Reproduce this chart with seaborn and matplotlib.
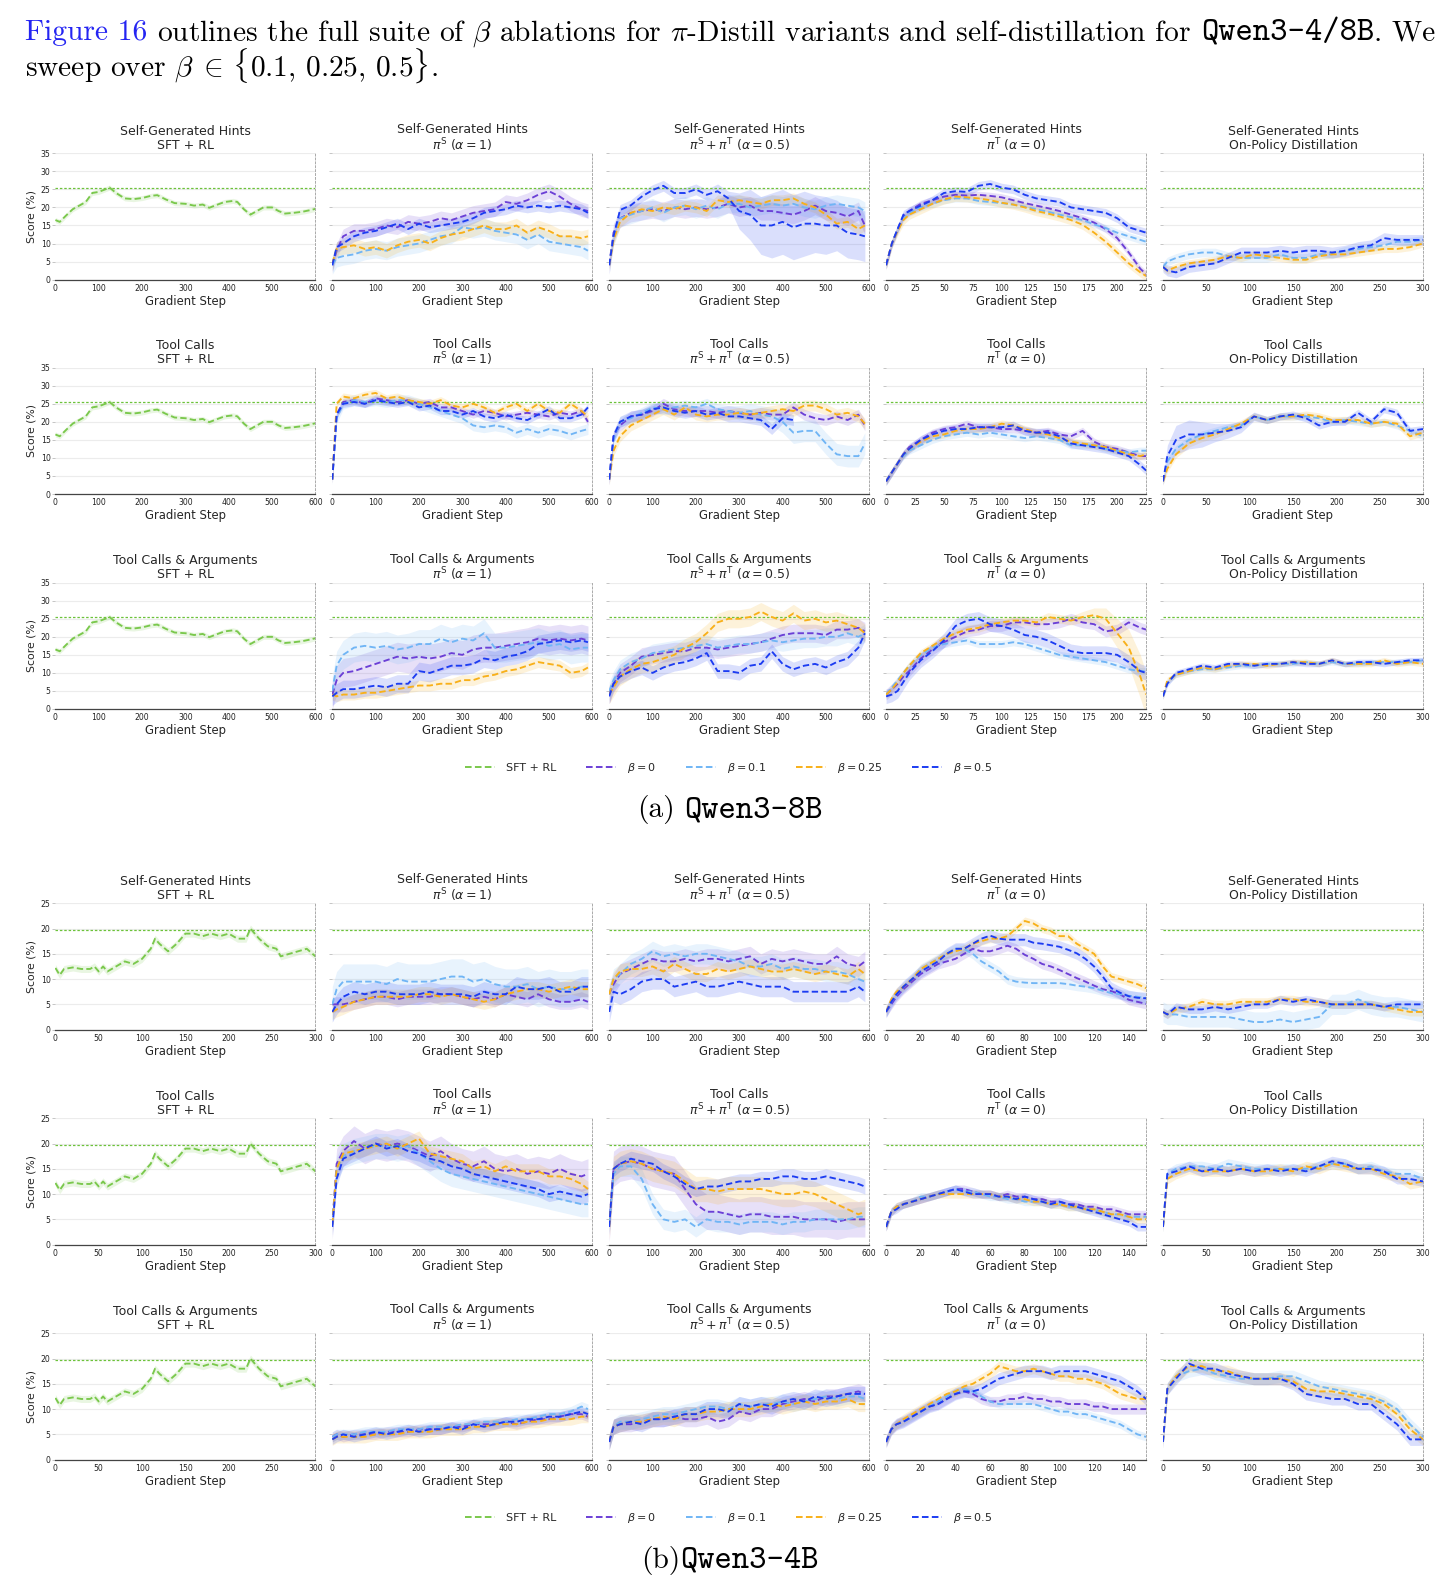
import numpy as np
import matplotlib
matplotlib.use("Agg")
import matplotlib.pyplot as plt
from matplotlib.lines import Line2D
import seaborn as sns

# ------------------------------------------------------------------ data
STEPS_600 = [0, 10, 25, 50, 75, 100, 125, 150, 175, 200, 225, 250, 275, 300, 325,
             350, 375, 400, 425, 450, 475, 500, 525, 550, 575, 590]
STEPS_225 = [0, 5, 10, 15, 20, 30, 40, 50, 60, 70, 80, 90, 100, 110, 120, 130, 140,
             150, 160, 170, 180, 190, 200, 210, 220, 225]
STEPS_300 = [0, 5, 15, 30, 45, 60, 75, 90, 105, 120, 135, 150, 165, 180, 195, 210,
             225, 240, 255, 270, 285, 300]
STEPS_150 = [0, 3, 6, 10, 15, 20, 25, 30, 35, 40, 45, 50, 55, 60, 65, 70, 75, 80, 85,
             90, 95, 100, 105, 110, 115, 120, 125, 130, 135, 140, 145, 150]

# SFT + RL baselines
SFT8_STEPS = [0, 10, 25, 40, 55, 70, 85, 100, 115, 125, 140, 160, 180, 200, 220, 235, 255,
              275, 300, 320, 340, 355, 370, 390, 410, 420, 435, 450, 465, 480, 500, 515,
              530, 550, 570, 590, 600]
SFT8_SCORE = [16.5, 16.0, 17.8, 19.5, 20.5, 21.5, 24.0, 24.3, 25.0, 25.5, 24.0, 22.5, 22.3,
              22.6, 23.2, 23.4, 22.2, 21.2, 21.0, 20.5, 20.8, 19.9, 20.6, 21.5, 21.8, 21.5,
              19.5, 18.0, 19.0, 20.0, 20.0, 19.0, 18.3, 18.5, 18.8, 19.3, 19.6]
SFT8_BEST = 25.5
SFT4_STEPS = [0, 5, 10, 20, 30, 40, 45, 50, 55, 60, 70, 80, 90, 100, 105, 110, 115, 120,
              130, 140, 150, 160, 170, 180, 190, 200, 210, 220, 225, 235, 245, 255, 260,
              270, 280, 290, 300]
SFT4_SCORE = [12.2, 10.8, 12, 12.3, 12, 12, 12.5, 11.5, 12.5, 11.5, 12.5, 13.5, 13, 14, 15,
              16, 18, 17, 15.5, 17, 19, 19, 18.5, 19, 18.5, 19, 18, 18, 20, 18, 16.5, 16,
              14.5, 15, 15.5, 16, 14.5]
SFT4_BEST = 19.7

# ---------------- Qwen3-8B ----------------
Q8_HINTS_PS = {
    "0":    [4, 8, 12, 13.5, 13.5, 14, 15, 14.5, 16, 15.5, 16, 17, 16.5, 17.5, 18.5, 19, 19.5, 21.5, 21, 22, 23.5, 24.5, 23, 21, 19.5, 19],
    "0.1":  [4, 6, 6.5, 7, 8, 8.5, 8, 9, 9.5, 10, 11, 12, 12.5, 14.5, 14, 14.5, 13.5, 13, 12.5, 11, 12.5, 10.5, 10, 9.5, 9, 8],
    "0.25": [4.5, 8.5, 9, 9.5, 8.5, 9, 8, 9.5, 10.5, 11, 10, 11.5, 12.5, 13, 14, 15, 14, 14, 15, 13, 14.5, 13.5, 12, 12, 11.5, 12],
    "0.5":  [4, 9, 10, 12, 13, 13.5, 14.5, 15.5, 14, 15.5, 14.5, 15, 15.5, 16, 17, 18.5, 19, 19.5, 20.5, 20, 20.5, 20, 20.5, 20, 19.5, 18.5],
}
Q8_HINTS_PS_BAND = {"0": 2.0, "0.1": 2.5, "0.25": 2.0, "0.5": 1.5}
Q8_HINTS_MIX = {
    "0":    [4, 13, 17, 18.5, 19, 19.5, 19, 20, 19.5, 20, 19.5, 20, 21, 20, 20.5, 19, 19, 18.5, 18, 19, 20.5, 19, 18.5, 17.5, 19, 15],
    "0.1":  [4, 12, 17, 18, 19, 20, 18.5, 20, 20.5, 19.5, 20.5, 19.5, 21, 21, 20, 20.5, 21, 20.5, 21, 20, 19.5, 20.5, 21, 20.5, 20, 19],
    "0.25": [4, 11, 16, 18.5, 19.5, 19, 20, 19.5, 20.5, 20, 19, 22, 21.5, 22, 21.5, 21, 22, 22, 22.5, 21, 20, 18, 15.5, 16, 14, 15],
    "0.5":  [4, 12, 19.3, 20.6, 23, 24.8, 26, 24, 24, 25, 23.5, 24.5, 22.5, 19, 18, 15, 15, 16, 14.5, 15.5, 15.5, 15, 15, 13, 12.5, 12],
}
Q8_HINTS_MIX_BAND = {"0": 2.5, "0.1": 2.5, "0.25": 1.5,
                     "0.5": [1, 1.5, 1.5, 1.5, 1.5, 1.5, 1.5, 1.5, 1.5, 1.5, 1.5, 2, 2, 5, 7, 8, 9, 9, 9, 9, 8, 8, 7, 7, 7, 7]}
Q8_HINTS_PT = {
    "0":    [4, 10, 14, 17.5, 19, 21, 22, 23, 23.5, 23.3, 23.5, 23.2, 22.8, 22, 21.2, 20.5, 19.8, 19, 18, 17, 15.8, 14, 11.5, 7.5, 3, 1.5],
    "0.1":  [4, 10, 14, 17, 18.5, 20, 21, 22, 22.5, 22.5, 21.8, 21.5, 21.2, 20.8, 20.2, 19.5, 18.8, 18, 17.3, 16.5, 15.3, 14.3, 13, 12, 11, 10.5],
    "0.25": [4, 10, 13.5, 16.5, 18, 19.5, 21, 22.2, 23, 22.8, 22.5, 22, 21.3, 20.8, 20, 19, 18.3, 17.5, 16.5, 15.2, 13, 10.5, 7.5, 4.5, 2, 1],
    "0.5":  [4, 10, 14, 18, 19, 20.5, 22, 24, 24.5, 24.3, 26, 26.5, 25.5, 25, 23.5, 22.5, 22, 21.5, 20, 19.5, 19, 18.5, 17, 14.5, 13.5, 13],
}
Q8_HINTS_PT_BAND = {"0": 1.0, "0.1": 1.0, "0.25": 1.3, "0.5": 1.2}
Q8_HINTS_OPD = {
    "0.1":  [3.5, 5, 6, 7, 7.5, 7.5, 6.5, 6, 6, 6, 7, 6, 6, 7, 7, 8, 8.5, 9, 9.5, 10.5, 10.5, 11],
    "0.25": [3.5, 2.5, 3.5, 4.5, 5, 5.5, 6.5, 6, 7, 6.5, 6, 5.5, 5.5, 6.5, 7, 7, 7.5, 8, 8.5, 8.5, 9, 10],
    "0.5":  [3.5, 2.5, 2, 3.5, 4, 4.5, 6, 7.5, 7.5, 7.5, 8, 7.5, 8, 8, 7.5, 8, 9, 9.5, 11.5, 11, 11, 11],
}
Q8_HINTS_OPD_BAND = {"0.1": 1.2, "0.25": 1.0, "0.5": 1.5}

Q8_TOOLS_PS = {
    "0":    [4, 22, 25.5, 26, 25, 26.5, 26, 25.5, 26, 25, 25.5, 24, 24, 23, 22, 23, 22.5, 21.5, 22, 22.5, 22, 21.5, 22.5, 22, 23, 20],
    "0.1":  [4, 21, 25, 26, 25.5, 26, 25.5, 26, 26, 25, 24, 23, 22, 21, 19, 18.5, 19, 18.5, 17, 18, 17, 18, 17.5, 16.5, 17.5, 18],
    "0.25": [4, 25, 27, 26.5, 27.5, 28, 26.5, 27, 26, 25.5, 25, 26, 24.5, 24, 25, 24, 22.5, 24, 25, 23, 25, 23, 22.5, 25, 23, 21.5],
    "0.5":  [4, 22, 25, 25.5, 25, 26, 25.5, 25, 25.5, 24, 24.5, 23, 23, 22, 23, 21.5, 21, 22, 21, 20.5, 22, 23.5, 21, 21, 22, 24],
}
Q8_TOOLS_PS_BAND = {"0": 1.0, "0.1": 1.5, "0.25": 1.0, "0.5": 1.0}
Q8_TOOLS_MIX = {
    "0":    [4, 16, 19, 21.5, 22, 23, 25, 23.5, 23, 23, 23, 22.5, 23, 22.5, 22, 22.5, 22, 22, 24, 22, 21, 20.5, 21.5, 20.5, 22, 19],
    "0.1":  [4, 15, 20, 21, 22.5, 24, 23.5, 24, 24.5, 24, 25, 23.5, 23, 22.5, 23, 22, 21.5, 20, 17, 17.5, 17.5, 14, 11, 10.5, 10.5, 14],
    "0.25": [4, 12, 16, 19, 20.5, 22, 23.5, 22, 24, 22, 21.5, 22, 22, 22.5, 22, 22.5, 23, 23.5, 23, 24.5, 24.5, 23.5, 22, 22.5, 21.5, 19.5],
    "0.5":  [4, 16, 20, 21.5, 22, 23.5, 24, 23, 22.5, 23, 22, 22.5, 21.5, 21.5, 21, 20.5, 18, 21, 20.5],
}
Q8_TOOLS_MIX_BAND = {"0": 1.5, "0.1": [1, 1.5, 1.5, 1.5, 1.5, 1.5, 1.5, 1.5, 1.5, 1.5, 1.5, 1.5, 1.5, 2, 2, 2.5, 2.5, 3, 3, 3, 3, 3, 3, 3, 3, 3],
                     "0.25": 1.5, "0.5": 1.5}
Q8_TOOLS_PT = {
    "0":    [3.5, 6, 8.5, 11, 13, 15, 17, 18, 18.5, 19.5, 18.5, 18.5, 18, 18, 17.5, 17, 17.5, 16.5, 16, 17.5, 14.5, 13, 12.5, 11.5, 10.5, 10.5],
    "0.1":  [3.5, 6, 8.5, 10.5, 12, 13.5, 15, 16, 16.5, 17, 16.5, 17, 16.5, 16, 15.5, 16, 15.5, 15, 13.5, 13.5, 13.5, 12.5, 12, 11.5, 12, 12],
    "0.25": [3.5, 6, 8.5, 11, 12.5, 14.5, 16, 16.5, 17.5, 18, 18, 18.5, 19.5, 19, 18, 17, 16.5, 15.5, 14.5, 14, 13.5, 13, 12, 11, 10.5, 11],
    "0.5":  [3.5, 6, 8.5, 11, 12.5, 15, 16.5, 17.5, 18, 18, 18.5, 18.5, 18.5, 19, 17.5, 17, 17, 16, 14, 13.5, 13, 12.5, 11.5, 10.5, 8, 6.5],
}
Q8_TOOLS_PT_BAND = {"0": 1.0, "0.1": 1.0, "0.25": 1.0, "0.5": 1.2}
Q8_TOOLS_OPD = {
    "0.1":  [3.5, 9, 12.5, 15, 16.5, 17.5, 18.5, 19, 21.5, 20.5, 21.5, 21.5, 21.5, 21, 20, 20.5, 20, 19.5, 20, 19, 17.5, 16],
    "0.25": [3.5, 7, 11, 14, 15.5, 16.5, 18, 19.5, 21.5, 20.5, 21.5, 21.5, 22, 21.5, 20.5, 20.5, 20.5, 19.5, 20, 19.5, 16, 17],
    "0.5":  [3.5, 10.5, 15, 16.5, 16.5, 17, 17.5, 18.5, 21.5, 20.5, 21.5, 22, 21, 19, 20, 20, 22.5, 20, 23.5, 22.5, 17.5, 18],
}
Q8_TOOLS_OPD_BAND = {"0.1": 1.0, "0.25": 1.0, "0.5": [1, 3, 4, 4, 3.5, 2.5, 2, 1.5, 1.2, 1, 1, 1, 1, 1, 1, 1, 1, 1, 1, 1, 1, 1]}

Q8_ARGS_PS = {
    "0":    [4, 8, 10, 10.5, 11.5, 12.5, 13.5, 14.5, 14, 14.5, 14, 14.5, 15.5, 15, 16.5, 17, 17, 17.5, 18, 18.5, 19.5, 19, 19.5, 19, 19.5, 19],
    "0.1":  [5, 12, 15, 17, 17.5, 17, 17.5, 16.5, 17, 18, 18, 19.5, 18.5, 19.5, 19, 21, 17, 17, 17.5, 18, 18.5, 17.5, 18, 16.5, 17, 17],
    "0.25": [4, 3.5, 4, 4, 4.5, 4.5, 5, 5.5, 6, 6.5, 6.5, 7, 7, 8, 8, 9, 9.5, 10.5, 11, 12, 13, 12.5, 12, 10, 10.5, 11.5],
    "0.5":  [3.5, 4.5, 5.5, 5.5, 6, 6.5, 6, 7, 7, 10.5, 10, 11, 12, 12, 12.5, 14, 13.5, 14.5, 15, 16, 18, 18.5, 19, 18.5, 19, 18.5],
}
Q8_ARGS_PS_BAND = {"0": 4.0, "0.1": 4.0, "0.25": 1.5, "0.5": 2.5}
Q8_ARGS_MIX = {
    "0":    [4, 7, 10, 12, 14.5, 15, 15.5, 16, 16, 17, 17, 16.5, 17, 17.5, 18, 18.5, 19.5, 20.5, 21, 21, 21, 20.5, 22, 22, 22.5, 21.5],
    "0.1":  [5, 8, 11, 13, 14, 15.5, 16, 16.5, 17, 17.5, 18, 17, 17.5, 18, 18, 18.5, 19, 18.5, 19, 19.5, 19.5, 20, 20, 21, 20, 21],
    "0.25": [4, 6, 9, 11, 12.5, 13, 14, 15, 17, 18.5, 21, 24, 25, 25, 25.5, 27, 25.5, 24.5, 26.5, 24.5, 25, 24, 24.5, 23.5, 22.5, 21],
    "0.5":  [3.5, 7, 9, 10.5, 11.5, 10, 11.5, 12.5, 13, 14, 15.5, 10.5, 10.5, 10, 12, 12.5, 16, 12.5, 11, 12, 12.5, 11.5, 13, 14, 17, 21],
}
Q8_ARGS_MIX_BAND = {"0": 2.5, "0.1": 2.5, "0.25": 2.5, "0.5": 2.0}
Q8_ARGS_PT = {
    "0":    [4, 5.5, 7, 9, 10.5, 14, 16.5, 18.5, 20, 21.5, 22, 23, 23, 24, 24, 23.5, 23.5, 24, 25, 24, 23.5, 21.5, 22, 24, 22.5, 22],
    "0.1":  [4, 6, 8, 10, 12, 15, 17, 18, 18.5, 19, 18, 18, 18, 18.5, 18, 17, 16, 15, 14.5, 14, 13.5, 13, 12, 11, 10.5, 10.5],
    "0.25": [4, 5.5, 7.5, 10, 12, 15.5, 17.5, 19.5, 21, 22, 22.5, 23.5, 24, 24.5, 24.5, 24, 25.5, 25, 24.5, 25.5, 26, 25, 21, 17, 9, 4],
    "0.5":  [3.5, 4, 5, 7.5, 10, 13.5, 16, 19, 23, 24.5, 25, 23.5, 23, 22, 20.5, 20, 19, 17.5, 16, 15.5, 15.5, 15.5, 15, 13, 10.5, 10],
}
Q8_ARGS_PT_BAND = {"0": 1.5, "0.1": 1.0,
                   "0.25": [1, 1, 1, 1, 1, 1, 1, 1.2, 1.2, 1.2, 1.2, 1.2, 1.2, 1.2, 1.2, 1.2, 1.2, 1.2, 1.2, 1.5, 2, 3, 4, 5, 6, 6],
                   "0.5": 2.0}
Q8_ARGS_OPD = {
    "0.1":  [3.5, 7.5, 9.5, 10.5, 11, 11, 11.5, 12, 12, 12.5, 12.5, 12.5, 13, 12.5, 13, 12.5, 12.5, 13, 13, 13, 13, 13.5],
    "0.25": [3.5, 8, 9.5, 10.5, 11.5, 11, 12, 12.5, 12.5, 12, 12.5, 13, 13, 12.5, 13.5, 12.5, 12.5, 12.5, 13.5, 12.5, 13, 12.5],
    "0.5":  [3.5, 7, 10, 11, 12, 11.5, 12.5, 12.5, 12, 12.5, 12.5, 13, 12.5, 12.5, 13.5, 12.5, 13, 13, 12.5, 13, 13.5, 13.5],
}
Q8_ARGS_OPD_BAND = {"0.1": 0.8, "0.25": 0.8, "0.5": 0.8}

# ---------------- Qwen3-4B ----------------
Q4_HINTS_PS = {
    "0":    [5, 5, 5, 5.5, 6, 6.5, 6.5, 6, 6.5, 6.5, 6.5, 7, 7, 6.5, 6, 6.5, 6, 7, 6.5, 6, 7, 6, 5.5, 5.5, 6, 5.5],
    "0.1":  [5, 8, 9.5, 9.5, 9.5, 9.5, 9, 10, 9.5, 9.5, 9.5, 10, 10.5, 10.5, 9.5, 10, 9, 8.5, 8.5, 9, 8, 8.5, 8, 8, 8.5, 8.5],
    "0.25": [3.5, 4, 4.5, 5.5, 6, 6.5, 6.5, 6.5, 6.5, 7, 7, 6.5, 7, 6.5, 6, 5.5, 6, 7, 7.5, 8, 8, 7.5, 8, 8.5, 8, 8],
    "0.5":  [3.5, 5, 6.5, 7.5, 7, 7.5, 7.5, 7, 7, 7, 7.5, 7, 7, 7, 6.5, 7.5, 7, 7, 8.5, 8, 8, 8.5, 7.5, 7.5, 8.5, 8.5],
}
Q4_HINTS_PS_BAND = {"0": 1.5, "0.1": 3.5, "0.25": 1.5, "0.5": 2.0}
Q4_HINTS_MIX = {
    "0":    [7, 9, 11, 12, 13, 14, 13.5, 13.5, 14, 13.5, 14, 14, 13.5, 14, 14.5, 13, 14, 13.5, 14, 13.5, 13, 13, 14.5, 13, 12.5, 13.5],
    "0.1":  [7, 10, 11, 13, 14, 15.5, 14.5, 15, 14.5, 15, 15, 14.5, 14, 13.5, 12.5, 12.5, 13, 12, 12.5, 12, 12, 11.5, 11.5, 11, 10, 9.5],
    "0.25": [7, 10, 11.5, 12, 12, 12.5, 11.5, 13, 12, 11, 11, 12, 11.5, 12, 12.5, 12, 11.5, 11.5, 12, 11.5, 11, 11.5, 11, 10.5, 12, 11],
    "0.5":  [3.5, 7.5, 7, 8, 9.5, 10, 10, 8.5, 9, 9.5, 8.5, 8.5, 9, 9.5, 9, 8.5, 8.5, 8.5, 7.5, 7.5, 7.5, 7.5, 7.5, 7.5, 8.5, 7.5],
}
Q4_HINTS_MIX_BAND = {"0": 2.0, "0.1": 2.0, "0.25": 1.5, "0.5": 2.0}
Q4_HINTS_PT = {
    "0":    [3.5, 5, 6.5, 8, 9.5, 11, 12, 13, 13.5, 14, 15, 16, 15.5, 15.5, 16, 16.6, 16, 14.8, 14, 13, 12.5, 11.8, 11, 10.2, 9.5, 8.7, 8, 7.6, 7, 5.9, 5.5, 5.1],
    "0.1":  [3.5, 5.5, 7, 8.5, 10, 12, 13, 14, 15, 16, 16, 15, 13.5, 12.5, 11.5, 10, 9.5, 9.3, 9.2, 9.2, 9.2, 9.2, 9, 8.7, 8.5, 8.2, 7.7, 7.2, 7, 6.7, 6.5, 6.2],
    "0.25": [3.5, 6, 7.5, 8.5, 10, 12, 13, 14, 15, 15.5, 16, 17, 17.5, 18, 18, 18.5, 20, 21.5, 21, 20, 19.5, 18.5, 18.5, 17, 16, 15, 12.5, 10.5, 10, 9.5, 9, 8.2],
    "0.5":  [3.5, 5.5, 7, 8.5, 10, 11.5, 12.5, 13.5, 15, 16, 16, 17, 18, 18.6, 18, 17.8, 17.8, 17.8, 17.2, 17, 16.7, 16.4, 15.8, 15.1, 14, 12.5, 10.5, 8.2, 7.3, 6.6, 6.3, 6.2],
}
Q4_HINTS_PT_BAND = {"0": 1.0, "0.1": 1.0, "0.25": 0.8, "0.5": 1.2}
Q4_HINTS_OPD = {
    "0.1":  [3.5, 3, 3, 2.5, 2.5, 2.5, 2.5, 2, 1.5, 1.5, 2, 1.5, 2, 2.5, 5, 5, 6, 5, 4.5, 4.5, 4, 3.5],
    "0.25": [3.5, 3, 4, 4.5, 5.5, 5, 5, 5.5, 5.5, 5.5, 6, 6, 5.5, 5.5, 5, 5, 5, 5, 4.5, 4, 3.5, 3.5],
    "0.5":  [3.5, 3, 4.5, 4, 4, 4.5, 4, 4.5, 5, 5, 6, 5.5, 6, 5.5, 5, 5, 5, 5, 4.5, 5, 5, 5],
}
Q4_HINTS_OPD_BAND = {"0.1": 2.0, "0.25": 0.8, "0.5": 0.8}

Q4_TOOLS_PS = {
    "0":    [4, 16, 18.5, 20.5, 19, 20, 19.5, 20, 19.5, 18.5, 17.5, 18.5, 17, 16, 15.5, 16.5, 15, 14.5, 15, 14, 14.5, 14, 15, 14, 13.5, 14],
    "0.1":  [4, 15, 17.5, 18.5, 19, 19.5, 19.5, 19, 19.5, 18, 16.5, 15, 14, 13.5, 13, 12.5, 12, 11.5, 11, 10.5, 10, 9.5, 9, 8.5, 8, 8],
    "0.25": [4, 15, 18, 18.5, 19, 19.5, 20, 19, 20, 21, 18, 17.5, 17, 16.5, 15, 15.5, 14.5, 15.5, 14.5, 14.5, 14.5, 13.5, 13.5, 13, 12, 11],
    "0.5":  [3.5, 13, 17, 18, 19, 20, 19, 19.5, 18.5, 18, 17, 16.5, 15.5, 15, 14, 13.5, 13, 12.5, 12, 11.5, 11, 10, 10.5, 10, 9.5, 10],
}
Q4_TOOLS_PS_BAND = {"0": 3.0, "0.1": 2.5, "0.25": 1.5, "0.5": 1.5}
Q4_TOOLS_MIX = {
    "0":    [4, 15, 16, 16.5, 16, 15, 14.5, 14, 11, 8, 6.5, 6.5, 6, 5.5, 6, 6, 5.5, 5.5, 5.5, 5, 5, 5, 4.5, 5, 5, 5],
    "0.1":  [4, 14, 15.5, 15.5, 13, 8, 5, 4.5, 5, 3.5, 5, 4.5, 4.5, 4, 4.5, 4.5, 4.5, 4, 4.5, 4.5, 5, 5, 5, 5, 5.5, 5.5],
    "0.25": [3.5, 15, 16, 16.5, 16, 15, 14.5, 14, 12.5, 11, 11, 10.5, 11, 11, 11, 11, 10.5, 10, 10, 10.5, 10, 9, 8, 7, 6, 6.5],
    "0.5":  [3.5, 15, 16, 17, 16.5, 16, 14.5, 13.5, 12, 11, 11.5, 11.5, 12, 12.5, 12.5, 13, 13, 13.5, 13.5, 13, 13, 13.5, 13, 12.5, 12, 11.5],
}
Q4_TOOLS_MIX_BAND = {"0": 3.5, "0.1": 2.0, "0.25": 2.5, "0.5": 1.5}
Q4_TOOLS_PT = {
    "0":    [3.5, 6.5, 7.5, 8, 8.5, 9, 9.5, 10, 10.5, 11, 11, 10.5, 10, 10, 9.5, 10, 9.5, 9.5, 9, 9, 8.5, 8.5, 8, 8, 7.5, 7.5, 7, 7, 6.5, 6, 6, 6],
    "0.1":  [3.5, 6.5, 7.5, 8, 8.5, 9.5, 9.5, 10, 10.5, 11, 10.5, 10.5, 10, 9.5, 9.5, 9, 9, 8.5, 8.5, 8.5, 8, 8, 7.5, 7.5, 7, 7, 6.5, 6, 6, 5.5, 5.5, 5.5],
    "0.25": [3.5, 6.5, 7.5, 8, 8.5, 9, 9.5, 10, 10, 10, 10, 10, 10, 10, 9.5, 9.5, 9, 9, 8.5, 8.5, 8, 8, 7.5, 7.5, 7, 7, 6.5, 6, 6, 5.5, 5, 5],
    "0.5":  [3.5, 6.5, 7, 8, 8.5, 9, 9.5, 10, 10.5, 11, 10.5, 10, 10, 10, 9.5, 9.5, 9, 9.5, 9, 8.5, 8, 8.5, 8, 7.5, 7, 6.5, 6, 5.5, 5, 4.5, 3.5, 3.5],
}
Q4_TOOLS_PT_BAND = {"0": 0.8, "0.1": 0.8, "0.25": 0.8, "0.5": 0.8}
Q4_TOOLS_OPD = {
    "0.1":  [3.5, 14, 15, 15.5, 15.5, 15, 16, 15.5, 15, 15, 15, 15, 15, 15.5, 16, 16, 15, 15.5, 14.5, 14, 14, 13],
    "0.25": [3.5, 13, 14, 15, 14.5, 14.5, 14.5, 15, 14.5, 14.5, 15, 14.5, 15.5, 15, 16, 15.5, 15, 15, 14, 13.5, 12, 12.5],
    "0.5":  [3.5, 14, 14.5, 15.5, 14.5, 15, 14.5, 15, 14.5, 15, 14.5, 15, 14.5, 15.5, 16.5, 16, 15, 15, 14.5, 13, 13, 12.5],
}
Q4_TOOLS_OPD_BAND = {"0.1": 1.0, "0.25": 1.0, "0.5": 1.0}

Q4_ARGS_PS = {
    "0":    [4.5, 5, 4.5, 5, 5, 5, 5.5, 5.5, 5.5, 6, 6, 6, 6.5, 6.5, 7, 7, 7, 7.5, 7, 7.5, 8, 8, 8.5, 9, 9, 8.5],
    "0.1":  [4.5, 5, 5, 5, 5.5, 5.5, 5.5, 6, 6, 6, 6.5, 6.5, 6.5, 7, 7, 7.5, 7.5, 7.5, 8, 8, 8.5, 9, 9, 9.5, 10.5, 10],
    "0.25": [4, 4.5, 4.5, 4.5, 4.5, 5, 5, 5, 5.5, 5.5, 5.5, 6, 6, 6, 6.5, 6.5, 7, 7, 7, 7.5, 7.5, 8, 8, 8, 8.5, 8.5],
    "0.5":  [4, 4.5, 5, 4.5, 5, 5.5, 5, 5.5, 6, 5.5, 6, 6, 6.5, 6, 7, 6.5, 7, 7.5, 7.5, 8, 8, 8.5, 8.5, 9, 9.5, 9],
}
Q4_ARGS_PS_BAND = {"0": 1.0, "0.1": 1.0, "0.25": 1.2, "0.5": 1.0}
Q4_ARGS_MIX = {
    "0":    [3.5, 6.5, 7, 7, 7.5, 8, 8, 8.5, 8, 8, 8.5, 7.5, 8, 9.5, 9, 10, 10, 11, 11.5, 12, 11.5, 12.5, 12.5, 13, 13.5, 13],
    "0.1":  [3.5, 6.5, 7.5, 7.5, 8, 8.5, 9, 9, 9.5, 10, 10.5, 10.5, 10, 11, 10.5, 11, 11, 11.5, 11, 11.5, 12, 12.5, 12, 12.5, 12.5, 12],
    "0.25": [3.5, 6.5, 7, 7.5, 7.5, 8, 8.5, 8, 9, 9, 9.5, 9.5, 10, 10, 10, 10.5, 11, 10.5, 11, 11.5, 11, 11.5, 11.5, 12, 11, 11],
    "0.5":  [3.5, 6.5, 7, 7.5, 7, 8, 8, 8.5, 9, 9, 10, 10, 9.5, 11, 10.5, 11, 10.5, 11.5, 12, 11.5, 12.5, 12, 12.5, 13, 13, 13],
}
Q4_ARGS_MIX_BAND = {"0": 1.5, "0.1": 1.5, "0.25": 1.5, "0.5": 1.5}
Q4_ARGS_PT = {
    "0":    [3.5, 6, 7, 7.5, 8.5, 9.5, 10.5, 11, 12, 13, 13.5, 13, 12, 11.5, 11.5, 12, 12, 12.5, 12, 12, 11.5, 11.5, 11, 11, 11, 10.5, 10.5, 10, 10, 10, 10, 10],
    "0.1":  [3.5, 6, 7, 7.5, 8.5, 9.5, 10.5, 11.5, 12.5, 13.5, 14, 13.5, 12.5, 11.5, 11, 11, 11, 11, 11, 10.5, 10, 9.5, 9.5, 9, 9, 8.5, 8, 7.5, 7, 6, 5, 4.5],
    "0.25": [3.5, 6, 7, 8, 9, 10, 11, 12, 13, 13.5, 14.5, 15, 16, 17, 18.5, 18, 17.5, 17.5, 18, 17.5, 17, 16.5, 16.5, 16, 16, 15.5, 15, 14, 13, 12.5, 12, 12],
    "0.5":  [3.5, 6, 7, 7.5, 8.5, 9.5, 10.5, 11, 12, 13, 13.5, 13.5, 14, 15, 16, 16.5, 17, 17.5, 17.5, 17.5, 17, 17.5, 17.5, 17.5, 17.5, 17, 16.5, 16, 15.5, 14.5, 13.5, 12],
}
Q4_ARGS_PT_BAND = {"0": 1.0, "0.1": 0.8, "0.25": 1.0, "0.5": 1.2}
Q4_ARGS_OPD = {
    "0.1":  [3.5, 14, 16.5, 17.5, 18, 17, 16.5, 16, 16, 16, 16.5, 16.5, 15.5, 14.5, 14, 13.5, 13, 12.5, 11.5, 10, 7, 4.5],
    "0.25": [3.5, 14, 16.5, 18.5, 18.5, 17.5, 17.5, 16.5, 16, 16, 16, 15.5, 14, 13.5, 13.5, 13, 12.5, 12, 11, 9, 6, 4],
    "0.5":  [3.5, 14, 16, 19, 18, 18, 17, 16.5, 16, 16, 16, 15, 13, 12.5, 12, 12, 11, 11, 9, 7, 4, 4],
}
Q4_ARGS_OPD_BAND = {"0.1": 1.2, "0.25": 1.2, "0.5": 1.2}

ROW_TITLES = ["Self-Generated Hints", "Tool Calls", "Tool Calls & Arguments"]
COL_TITLES = ["SFT + RL",
              r"$\pi^{\mathrm{S}}\ (\alpha = 1)$",
              r"$\pi^{\mathrm{S}} + \pi^{\mathrm{T}}\ (\alpha = 0.5)$",
              r"$\pi^{\mathrm{T}}\ (\alpha = 0)$",
              "On-Policy Distillation"]
BETAS = ["0", "0.1", "0.25", "0.5"]
LEGEND_LABELS = ["SFT + RL", r"$\beta = 0$", r"$\beta = 0.1$", r"$\beta = 0.25$", r"$\beta = 0.5$"]

# ------------------------------------------------------------------ style
GREEN = "#7ac84c"
BEST_GREEN = "#6cc23a"
BETA_COLORS = {"0": "#6b3fd6", "0.1": "#70b5f5", "0.25": "#f8b019", "0.5": "#1c3cf2"}
LINK_BLUE = "#2424f2"
DASH = (0, (3.4, 1.7))

sns.set_theme(style="white")
plt.rcParams["font.family"] = ["DejaVu Sans"]
plt.rcParams["axes.unicode_minus"] = False

W, H, DPI = 1456, 1580, 100
fig = plt.figure(figsize=(W / DPI, H / DPI), dpi=DPI)
fig.patch.set_facecolor("white")
rend = fig.canvas.get_renderer()

COL_LEFT = [55.4, 332.3, 609.2, 886.1, 1163.0]
AX_W = 260.0
AX_H = 126.3
ROW_TOP = {"8B": [153.3, 367.7, 582.7], "4B": [903.3, 1118.3, 1333.3]}

MODELS = {
    "8B": dict(sft_x=SFT8_STEPS, sft_y=SFT8_SCORE, best=SFT8_BEST, ymax=35,
               xmax=[600, 600, 600, 225, 300],
               grids=[STEPS_600, STEPS_600, STEPS_225, STEPS_300],
               panels=[[Q8_HINTS_PS, Q8_HINTS_MIX, Q8_HINTS_PT, Q8_HINTS_OPD],
                       [Q8_TOOLS_PS, Q8_TOOLS_MIX, Q8_TOOLS_PT, Q8_TOOLS_OPD],
                       [Q8_ARGS_PS, Q8_ARGS_MIX, Q8_ARGS_PT, Q8_ARGS_OPD]],
               bands=[[Q8_HINTS_PS_BAND, Q8_HINTS_MIX_BAND, Q8_HINTS_PT_BAND, Q8_HINTS_OPD_BAND],
                      [Q8_TOOLS_PS_BAND, Q8_TOOLS_MIX_BAND, Q8_TOOLS_PT_BAND, Q8_TOOLS_OPD_BAND],
                      [Q8_ARGS_PS_BAND, Q8_ARGS_MIX_BAND, Q8_ARGS_PT_BAND, Q8_ARGS_OPD_BAND]]),
    "4B": dict(sft_x=SFT4_STEPS, sft_y=SFT4_SCORE, best=SFT4_BEST, ymax=25,
               xmax=[300, 600, 600, 150, 300],
               grids=[STEPS_600, STEPS_600, STEPS_150, STEPS_300],
               panels=[[Q4_HINTS_PS, Q4_HINTS_MIX, Q4_HINTS_PT, Q4_HINTS_OPD],
                       [Q4_TOOLS_PS, Q4_TOOLS_MIX, Q4_TOOLS_PT, Q4_TOOLS_OPD],
                       [Q4_ARGS_PS, Q4_ARGS_MIX, Q4_ARGS_PT, Q4_ARGS_OPD]],
               bands=[[Q4_HINTS_PS_BAND, Q4_HINTS_MIX_BAND, Q4_HINTS_PT_BAND, Q4_HINTS_OPD_BAND],
                      [Q4_TOOLS_PS_BAND, Q4_TOOLS_MIX_BAND, Q4_TOOLS_PT_BAND, Q4_TOOLS_OPD_BAND],
                      [Q4_ARGS_PS_BAND, Q4_ARGS_MIX_BAND, Q4_ARGS_PT_BAND, Q4_ARGS_OPD_BAND]]),
}


def xticks_for(xmax):
    step = {600: 100, 300: 50, 225: 25, 150: 20}[xmax]
    return list(range(0, xmax + 1, step)) if xmax != 150 else list(range(0, 141, 20))


def draw_series(ax, x, y, band, color, band_alpha=0.16):
    y = np.asarray(y, dtype=float)
    x = np.asarray(x[:len(y)], dtype=float)
    b = np.broadcast_to(np.asarray(band, dtype=float)[:len(y)] if np.ndim(band) else band, y.shape)
    ax.fill_between(x, y - b, y + b, color=color, alpha=band_alpha, lw=0)
    sns.lineplot(x=x, y=y, ax=ax, color=color, lw=1.35, linestyle=DASH, legend=False)


def style_axes(ax, xmax, ymax, first_col, row_title, col_title):
    ax.set_xlim(0, xmax)
    ax.set_ylim(0, ymax)
    ax.set_xticks(xticks_for(xmax))
    ax.set_yticks(list(range(0, ymax + 1, 5)))
    ax.grid(axis="y", color="#ececec", lw=0.8)
    ax.grid(axis="x", visible=False)
    ax.set_axisbelow(True)
    ax.spines["top"].set_visible(False)
    ax.spines["left"].set_visible(False)
    ax.spines["bottom"].set_color("#444444")
    ax.spines["bottom"].set_linewidth(0.9)
    ax.spines["right"].set_color("#aaaaaa")
    ax.spines["right"].set_linestyle((0, (2, 2)))
    ax.spines["right"].set_linewidth(0.7)
    ax.tick_params(axis="x", labelsize=5.6, length=0, pad=3, labelcolor="#222222")
    ax.tick_params(axis="y", labelsize=5.6, length=2, width=0.6, color="#bbbbbb",
                   pad=1.5, labelcolor="#222222", left=True, labelleft=first_col)
    ax.set_xlabel("Gradient Step", fontsize=8.4, labelpad=1.5)
    if first_col:
        ax.set_ylabel("Score (%)", fontsize=7.8, labelpad=3)
    else:
        ax.set_ylabel("")
    # two title lines on fixed baselines; math lines sit a touch lower
    is_math = "$" in col_title
    ax.annotate(row_title, xy=(0.5, 1.0), xycoords="axes fraction", xytext=(0, 14.4 if is_math else 13.3),
                textcoords="offset points", ha="center", va="baseline", fontsize=9)
    ax.annotate(col_title, xy=(0.5, 1.0), xycoords="axes fraction", xytext=(0, 2.2 if is_math else 3.4),
                textcoords="offset points", ha="center", va="baseline", fontsize=9)


for key, M in MODELS.items():
    for r in range(3):
        for c in range(5):
            top = ROW_TOP[key][r]
            ax = fig.add_axes([COL_LEFT[c] / W, 1 - (top + AX_H) / H, AX_W / W, AX_H / H])
            ax.set_facecolor("white")
            ax.axhline(M["best"], color=BEST_GREEN, lw=0.9, ls=(0, (2, 1.5)), zorder=1.5)
            if c == 0:
                draw_series(ax, M["sft_x"], M["sft_y"], 0.7, GREEN)
            else:
                data = M["panels"][r][c - 1]
                bands = M["bands"][r][c - 1]
                grid = M["grids"][c - 1]
                for b in BETAS:
                    if b in data:
                        draw_series(ax, grid, data[b], bands[b], BETA_COLORS[b])
            style_axes(ax, M["xmax"][c], M["ymax"], c == 0, ROW_TITLES[r], COL_TITLES[c])

# ------------------------------------------------------------------ legends
handles = [Line2D([], [], color=GREEN, lw=1.4, linestyle=DASH)] + \
          [Line2D([], [], color=BETA_COLORS[b], lw=1.4, linestyle=DASH) for b in BETAS]
for ycen in (768, 1518):
    fig.legend(handles, LEGEND_LABELS, loc="center", bbox_to_anchor=(729 / W, 1 - ycen / H),
               ncol=5, frameon=False, fontsize=8, handlelength=2.7, handletextpad=1.0,
               columnspacing=2.65)

# ------------------------------------------------------------------ document text
TT_SCALE = 1.12


def seg_size(fam, size):
    return size * TT_SCALE if fam == "cmtt10" else size


def text_width(s, fam, size):
    t = fig.text(0, 0, s, fontsize=seg_size(fam, size), family=fam, math_fontfamily="cm")
    w = t.get_window_extent(renderer=rend).width
    t.remove()
    return w


LINE1 = [("Figure 16", "cmr10", LINK_BLUE, 0.333),
         (r"outlines the full suite of $\beta$ ablations for $\pi$-Distill variants and self-distillation for",
          "cmr10", "black", 0.333),
         ("Qwen3-4/8B", "cmtt10", "black", 0.0),
         (". We", "cmr10", "black", 0.0)]
LINE2 = [(r"sweep over $\beta\;\in\,\{0.1,\, 0.25,\, 0.5\}$.", "cmr10", "black", 0.0)]
CAP_A = [("(a)", "cmr10", "black", 0.333), ("Qwen3-8B", "cmtt10", "black", 0.0)]
CAP_B = [("(b)", "cmr10", "black", 0.0), ("Qwen3-4B", "cmtt10", "black", 0.0)]


def line_width(segs, size):
    px_per_pt = DPI / 72.0
    return sum(text_width(s, f, size) + g * size * px_per_pt for s, f, _, g in segs)


def place(segs, x0, base, size):
    x = x0
    for s, f, col, g in segs:
        t = fig.text(x / W, 1 - base / H, s, fontsize=seg_size(f, size), family=f, color=col,
                     math_fontfamily="cm", ha="left", va="baseline")
        x += t.get_window_extent(renderer=rend).width + g * size * DPI / 72.0


ref = 20.0
body_size = ref * (1436 - 25) / line_width(LINE1, ref)
place(LINE1, 25, 40.5, body_size)
place(LINE2, 25, 76.0, body_size)
cap_size = body_size
for segs, base in ((CAP_A, 817), (CAP_B, 1568)):
    w = line_width(segs, cap_size)
    place(segs, 730 - w / 2, base, cap_size)

fig.savefig("out.png", dpi=DPI, facecolor="white")
